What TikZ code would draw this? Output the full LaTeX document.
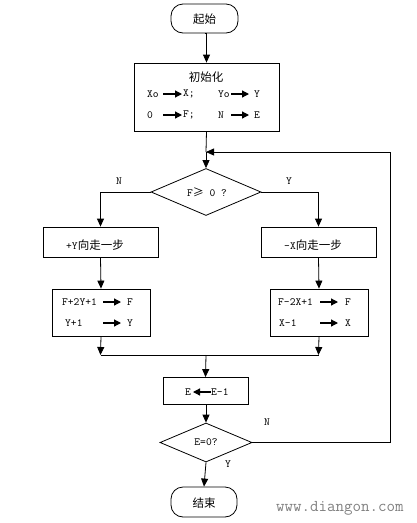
\documentclass[tikz,border=0pt]{standalone}
\usepackage{fontspec}
\setmonofont{Latin Modern Mono}
\newfontfamily\cjk{Noto Sans CJK SC}
\usetikzlibrary{shapes.geometric,arrows.meta}
\tikzset{
  box/.style={draw=black,line width=0.8pt,rectangle,inner sep=0pt},
  term/.style={box,rounded corners=12pt},
  dec/.style={draw=black,line width=0.8pt,diamond,inner sep=0pt,aspect=2},
  flow/.style={line width=0.8pt,-{Triangle[length=8pt,width=7pt]}},
  line/.style={line width=0.8pt},
  tarr/.style={line width=1.2pt,-{Triangle[length=7pt,width=7pt]}},
  lbl/.style={inner sep=0pt,font=\ttfamily\fontsize{11}{11}\selectfont},
  cj/.style={inner sep=0pt,font=\cjk\fontsize{11.5}{11.5}\selectfont},
}
\begin{document}
\begin{tikzpicture}[x=1pt,y=-1pt]
\useasboundingbox (0,0) rectangle (416,523);
% main nodes
\node[term,minimum width=67pt,minimum height=29pt] (start) at (204.5,18.5) {};
\node[cj] (tstart) at (204.5,19) {起始};
\node[box,minimum width=145pt,minimum height=68pt] (init) at (206.5,97) {};
\node[dec,minimum width=110pt,minimum height=47pt] (d1) at (206,192) {};
\node[box,minimum width=115pt,minimum height=30pt] (l1) at (100.5,242) {};
\node[box,minimum width=115pt,minimum height=30pt] (r1) at (318.5,242) {};
\node[box,minimum width=98pt,minimum height=47pt] (l2) at (101,312.5) {};
\node[box,minimum width=98pt,minimum height=47pt] (r2) at (319,312.5) {};
\node[box,minimum width=85pt,minimum height=27pt] (ebox) at (205.5,391) {};
\node[dec,minimum width=92pt,minimum height=39pt] (d2) at (206,442.5) {};
\node[term,minimum width=66pt,minimum height=30pt] (end) at (204,502) {};
\node[cj] (tend) at (204,503) {结束};
% coordinates
\coordinate (loopin) at (206,152);
\coordinate (loopr) at (390,152);
\coordinate (loopd) at (390,442.5);
\coordinate (nl) at (100.5,192);
\coordinate (nr) at (318.5,192);
\coordinate (ml) at (100.5,355);
\coordinate (mr) at (318.5,355);
\coordinate (mc) at (206,355);
% connectors
\draw[flow] (start.south) -- (init.south |- start.south) -- (init.north);
\draw[line] (init.south) -- (loopin);
\draw[flow] (loopin) -- (d1.north);
\draw[line] (d1.west) -- (nl);
\draw[flow] (nl) -- (l1.north);
\draw[line] (d1.east) -- (nr);
\draw[flow] (nr) -- (r1.north);
\draw[flow] (l1.south) -- (l2.north);
\draw[flow] (r1.south) -- (r2.north);
\draw[flow] (l2.south) -- (ml);
\draw[flow] (r2.south) -- (mr);
\draw[line] (ml) -- (mr);
\draw[flow] (mc) -- (ebox.north);
\draw[flow] (ebox.south -| d2.north) -- (d2.north);
\draw[line] (d2.east) -- (loopd) -- (loopr);
\draw[flow] (loopr) -- (loopin);
\draw[flow] (d2.south) -- (end.north);
% labels on branches
\node[lbl] (lN1) at (119,181) {N};
\node[lbl] (lY1) at (289,181) {Y};
\node[lbl] (lN2) at (267,422) {N};
\node[lbl] (lY2) at (228,464) {Y};
% init texts
\node[cj] (tinit) at (206,77) {初始化};
\node[lbl,anchor=west] (xo) at (147,94) {Xo};
\node[lbl,anchor=west] (xx) at (183,94) {X;};
\node[lbl,anchor=west] (yo) at (218,94) {Yo};
\node[lbl,anchor=west] (yy) at (254,94) {Y};
\node[lbl,anchor=west] (oo) at (147,115) {0};
\node[lbl,anchor=west] (ff) at (183,115) {F;};
\node[lbl,anchor=west] (nn) at (218,115) {N};
\node[lbl,anchor=west] (ee) at (254,115) {E};
\draw[tarr] (163,94) -- (182,94);
\draw[tarr] (231,94) -- (249,94);
\draw[tarr] (163,115) -- (182,115);
\draw[tarr] (231,115) -- (249,115);
% decision 1
\node[inner sep=0pt] (td1) at (207,192) {\ttfamily\fontsize{11}{11}\selectfont F{\cjk ≥} 0 ?};
% step boxes
\node[inner sep=0pt] (tl1) at (95,245) {\ttfamily\fontsize{11}{11}\selectfont +Y{\cjk\fontsize{11.5}{11.5}\selectfont 向走一步}};
\node[inner sep=0pt] (tr1) at (313,245) {\ttfamily\fontsize{11}{11}\selectfont -X{\cjk\fontsize{11.5}{11.5}\selectfont 向走一步}};
% l2 texts
\node[lbl,anchor=west] (a1) at (62,302) {F+2Y+1};
\node[lbl,anchor=west] (a2) at (127,302) {F};
\node[lbl,anchor=west] (a3) at (65,323) {Y+1};
\node[lbl,anchor=west] (a4) at (127,323) {Y};
\draw[tarr] (103,302) -- (121,302);
\draw[tarr] (103,323) -- (121,323);
% r2 texts
\node[lbl,anchor=west] (b1) at (278,302) {F-2X+1};
\node[lbl,anchor=west] (b2) at (345,302) {F};
\node[lbl,anchor=west] (b3) at (279,323) {X-1};
\node[lbl,anchor=west] (b4) at (345,323) {X};
\draw[tarr] (320,302) -- (338,302);
\draw[tarr] (320,323) -- (338,323);
% E box
\node[lbl,anchor=west] (c1) at (185,392) {E};
\node[lbl,anchor=west] (c2) at (211,392) {E-1};
\draw[tarr] (211,392) -- (193,392);
% decision 2
\node[lbl] (td2) at (206,442) {E=0?};
% watermark
\node[inner sep=0pt,anchor=west,text=black!50,font=\ttfamily\fontsize{16.5}{16.5}\selectfont] (wm) at (276,508) {www.diangon.com};
\end{tikzpicture}
\end{document}
